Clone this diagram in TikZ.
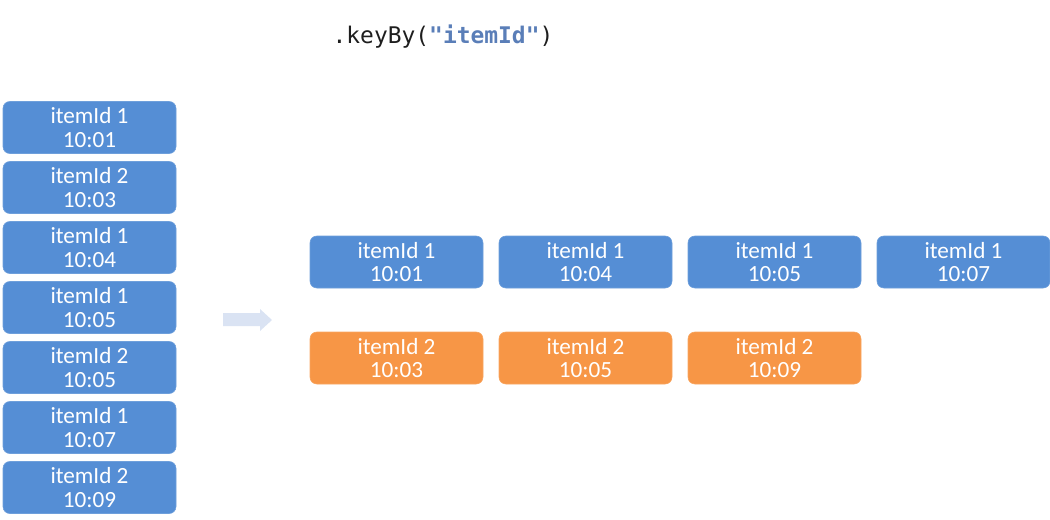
\documentclass[tikz,border=0pt]{standalone}
\usepackage{fontspec}
\setmainfont{Carlito}
\setmonofont{DejaVu Sans Mono}
\usepackage{xcolor}
\usetikzlibrary{positioning}

\definecolor{keyblue}{HTML}{558ED5}
\definecolor{keyorange}{HTML}{F79646}
\definecolor{arrowblue}{HTML}{DAE3F3}
\definecolor{codeblue}{HTML}{5A7EB8}
\definecolor{codedark}{HTML}{1E1E1E}

\begin{document}
\begin{tikzpicture}[
  every node/.style={font=\fontsize{16.5}{16.5}\selectfont},
  event/.style={rectangle, rounded corners=0.17cm, minimum width=4.325cm, minimum height=1.3cm, align=center, text=white, inner sep=0pt, outer sep=0pt},
  ev1/.style={event, fill=keyblue, draw=keyblue!85!white},
  ev2/.style={event, fill=keyorange, draw=keyorange!85!white},
]
  \useasboundingbox (0,0) rectangle (26.25,-12.975);

  % input stream
  \node[ev1] (in1) at (2.2375,-3.1875) {itemId 1\\10:01};
  \node[ev1, below=0.2cm of in1] (in2) {itemId 2\\10:03};
  \node[ev1, below=0.2cm of in2] (in3) {itemId 1\\10:04};
  \node[ev1, below=0.2cm of in3] (in4) {itemId 1\\10:05};
  \node[ev1, below=0.2cm of in4] (in5) {itemId 2\\10:05};
  \node[ev1, below=0.2cm of in5] (in6) {itemId 1\\10:07};
  \node[ev1, below=0.2cm of in6] (in7) {itemId 2\\10:09};

  % keyBy
  \node[font=\fontsize{16.3}{20}\selectfont\ttfamily, text=codedark] (op) at (11.075,-0.925)
    {.keyBy(\textcolor{codeblue}{\textbf{"itemId"}})};

  \fill[arrowblue] (5.575,-7.825) -- (6.5,-7.825) -- (6.5,-7.725) -- (6.8,-8.0)
    -- (6.5,-8.275) -- (6.5,-8.15) -- (5.575,-8.15) -- cycle;

  % partition itemId 1
  \node[ev1] (k1a) at (9.9125,-6.55) {itemId 1\\10:01};
  \node[ev1, right=0.4cm of k1a] (k1b) {itemId 1\\10:04};
  \node[ev1, right=0.4cm of k1b] (k1c) {itemId 1\\10:05};
  \node[ev1, right=0.4cm of k1c] (k1d) {itemId 1\\10:07};

  % partition itemId 2
  \node[ev2, below=1.1cm of k1a] (k2a) {itemId 2\\10:03};
  \node[ev2, right=0.4cm of k2a] (k2b) {itemId 2\\10:05};
  \node[ev2, right=0.4cm of k2b] (k2c) {itemId 2\\10:09};
\end{tikzpicture}
\end{document}
